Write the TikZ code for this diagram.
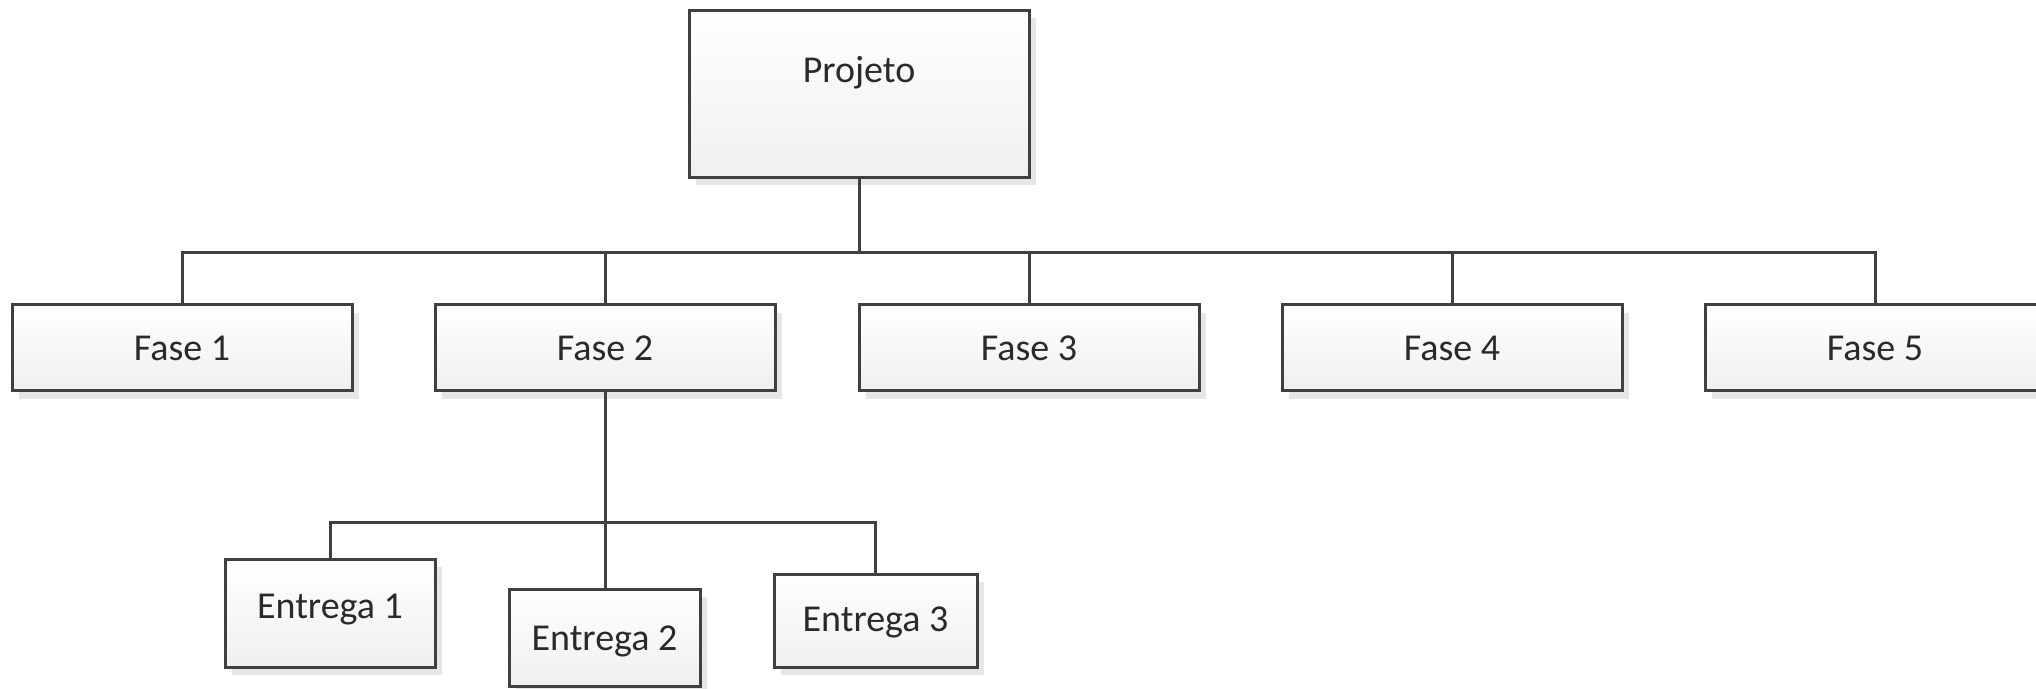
\documentclass[tikz,border=0pt]{standalone}
\usepackage{fontspec}
\setmainfont{Carlito}
\usetikzlibrary{shadows}
\definecolor{edge}{HTML}{404040}
\definecolor{txt}{HTML}{2A2A2A}
\definecolor{shade}{HTML}{E6E6E6}
\begin{document}
\begin{tikzpicture}[x=1pt,y=-1pt,
  wbox/.style={draw=edge, line width=3pt, inner sep=0pt, top color=white, bottom color=black!6,
    text=txt, font=\fontsize{38}{46}\selectfont, text height=25pt, text depth=0pt,
    drop shadow={shadow xshift=7pt, shadow yshift=-8pt, fill=shade, opacity=1}},
  fasebox/.style={wbox, minimum width=340pt, minimum height=86pt},
  link/.style={draw=edge, line width=3pt}]
\useasboundingbox (0,0) rectangle (2036,688);
\clip (0,0) rectangle (2036,688);
\fill[white] (0,0) rectangle (2036,688);

\node[wbox, minimum width=340pt, text height=72pt, text depth=95pt] (proj) at (859,93.5) {Projeto};

\node[fasebox] (f1) at (182,347.5) {Fase 1};
\node[fasebox] (f2) at (605,347.5) {Fase 2};
\node[fasebox] (f3) at (1029,347.5) {Fase 3};
\node[fasebox] (f4) at (1452,347.5) {Fase 4};
\node[fasebox] (f5) at (1875,347.5) {Fase 5};

\node[wbox, minimum width=210pt, minimum height=108pt, text depth=14pt] (e1) at (330,613) {Entrega 1};
\node[wbox, minimum width=191pt, minimum height=97pt] (e2) at (604.5,637.5) {Entrega 2};
\node[wbox, minimum width=203pt, minimum height=93pt, text depth=4pt] (e3) at (875.5,620.5) {Entrega 3};

\coordinate (b1) at (859,252);
\coordinate (b2) at (606,522);

\draw[link] (proj.south) -- (b1);
\draw[link] (b1) -| (f1.north);
\draw[link] (b1) -| (f2.north);
\draw[link] (b1) -| (f3.north);
\draw[link] (b1) -| (f4.north);
\draw[link] (b1) -| (f5.north);

\draw[link] (f2.south) -- (f2.south |- e2.north);
\draw[link] (e1.north) |- (b2) -| (e3.north);
\end{tikzpicture}
\end{document}
